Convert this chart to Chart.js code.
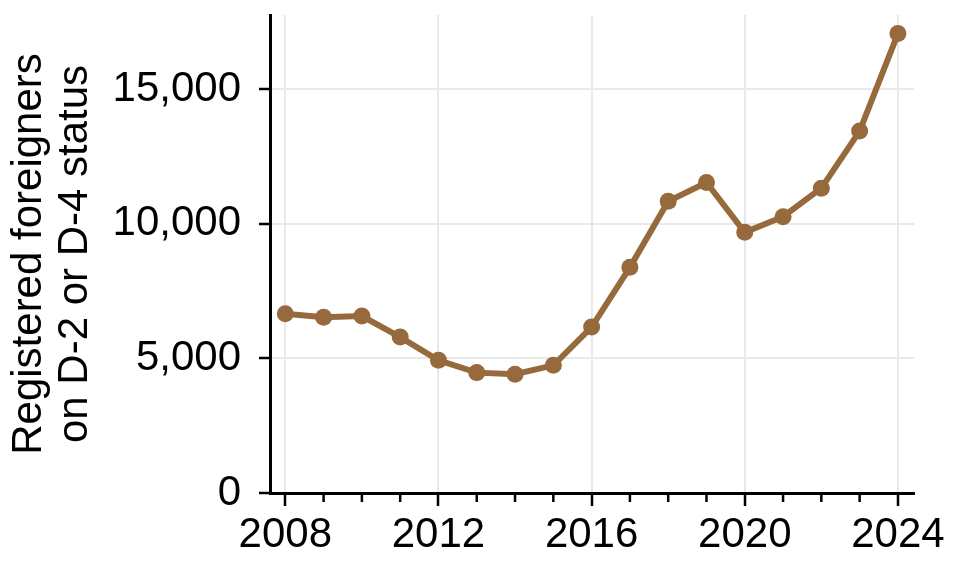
<!DOCTYPE html>
<html>
<head>
<meta charset="utf-8">
<script src="https://cdn.jsdelivr.net/npm/chart.js@4/dist/chart.umd.min.js"></script>
<style>
  body { margin: 0; background: #fff; }
  canvas { display: block; }
</style>
</head>
<body>
<canvas id="chart" width="962" height="576"></canvas>
<script>
// Data
const years = [2008, 2009, 2010, 2011, 2012, 2013, 2014, 2015, 2016, 2017, 2018, 2019, 2020, 2021, 2022, 2023, 2024];
const registered = [6660, 6530, 6570, 5790, 4930, 4470, 4410, 4740, 6160, 8380, 10830, 11530, 9680, 10260, 11320, 13440, 17060];
const yTicks = [0, 5000, 10000, 15000];
const xMajorTicks = [2008, 2012, 2016, 2020, 2024];
const yTitle = ['Registered foreigners', 'on D-2 or D-4 status'];

const lineColor = '#976a3d';
const gridColor = '#e9e9e9';
const fontFamily = '"Liberation Sans", Arial, sans-serif';

// small ticks for the in-between years
const minorTicks = {
    id: 'minorTicks',
    afterDraw(chart) {
        const xs = chart.scales.x;
        const ctx = chart.ctx;
        ctx.save();
        ctx.strokeStyle = '#000';
        ctx.lineWidth = 2.5;
        years.forEach(function(y) {
            if (xMajorTicks.includes(y)) return;
            const px = xs.getPixelForValue(y);
            ctx.beginPath();
            ctx.moveTo(px, xs.top);
            ctx.lineTo(px, xs.top + 9);
            ctx.stroke();
        });
        ctx.restore();
    }
};

const points = years.map((y, i) => ({ x: y, y: registered[i] }));

new Chart(document.getElementById('chart').getContext('2d'), {
    type: 'line',
    data: {
        datasets: [{
            data: points,
            borderColor: lineColor,
            backgroundColor: lineColor,
            borderWidth: 6,
            pointRadius: 8.5,
            pointBorderWidth: 0,
            pointBackgroundColor: lineColor,
            tension: 0
        }]
    },
    options: {
        responsive: false,
        animation: false,
        devicePixelRatio: 1,
        layout: { padding: { top: 15, right: 48, left: 0, bottom: 0 } },
        plugins: {
            legend: { display: false },
            tooltip: { enabled: false }
        },
        scales: {
            x: {
                type: 'linear',
                min: 2007.6,
                max: 2024.42,
                afterBuildTicks: function(scale) {
                    scale.ticks = years.map(v => ({ value: v }));
                },
                afterFit: function(scale) {
                    scale.height = 83;
                    scale.paddingLeft = 0;
                    scale.paddingRight = 0;
                },
                border: { color: '#000', width: 3 },
                grid: {
                    color: ctx => xMajorTicks.includes(ctx.tick && ctx.tick.value) ? gridColor : 'rgba(0,0,0,0)',
                    tickColor: ctx => xMajorTicks.includes(ctx.tick && ctx.tick.value) ? '#000' : 'rgba(0,0,0,0)',
                    lineWidth: 2,
                    tickWidth: 2.5,
                    tickLength: 13
                },
                ticks: {
                    autoSkip: false,
                    maxRotation: 0,
                    padding: 4,
                    color: '#000',
                    font: { family: fontFamily, size: 42 },
                    callback: v => xMajorTicks.includes(v) ? String(v) : ''
                }
            },
            y: {
                min: 0,
                max: 17750,
                afterBuildTicks: function(scale) {
                    scale.ticks = yTicks.map(v => ({ value: v }));
                },
                afterFit: function(scale) {
                    scale.width = 270;
                    scale.paddingTop = 0;
                    scale.paddingBottom = 0;
                },
                border: { color: '#000', width: 3 },
                grid: {
                    color: gridColor,
                    tickColor: '#000',
                    lineWidth: 2,
                    tickWidth: 2.5,
                    tickLength: 11
                },
                ticks: {
                    padding: 18,
                    color: '#000',
                    font: { family: fontFamily, size: 42 },
                    callback: v => v.toLocaleString('en-US')
                },
                title: {
                    display: true,
                    text: yTitle,
                    color: '#000',
                    font: { family: fontFamily, size: 42, lineHeight: 1.1 },
                    padding: { top: 6, bottom: 0 }
                }
            }
        }
    },
    plugins: [minorTicks]
});
</script>
</body>
</html>
